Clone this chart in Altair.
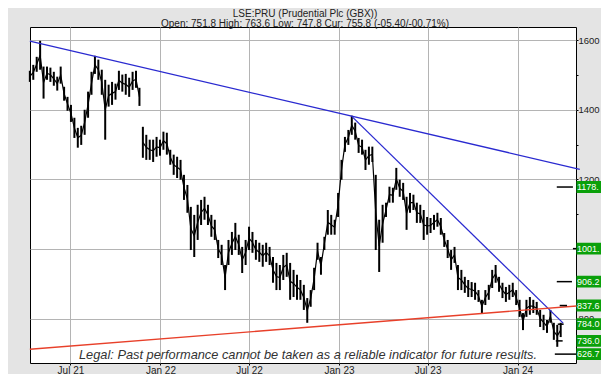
import altair as alt
import pandas as pd

TITLE = "LSE:PRU (Prudential Plc (GBX))"
SUBTITLE = "Open: 751.8 High: 763.6 Low: 747.8 Cur: 755.8 (-05.40/-00.71%)"
LEGAL = "Legal: Past performance cannot be taken as a reliable indicator for future results."

# weekly bars
FIRST_WEEK = "2021-04-09"
GAP_AFTER = "2021-11-20"
HIGHS = [1512, 1529, 1552, 1598, 1524, 1524, 1521, 1509, 1495, 1524,
         1466, 1437, 1414, 1377, 1348, 1354, 1400, 1452, 1509, 1555,
         1544, 1515, 1486, 1472, 1480, 1475, 1512, 1501, 1503, 1492,
         1509, 1512, 1463, 1351, 1328, 1314, 1314, 1322, 1314, 1337,
         1334, 1285, 1271, 1265, 1256, 1213, 1184, 1121, 1098, 1127,
         1141, 1150, 1127, 1098, 1084, 1026, 1012, 954, 1026, 1049,
         1075, 1041, 1006, 1026, 1064, 1049, 1026, 1018, 1012, 1018,
         1006, 977, 960, 954, 983, 989, 960, 940, 926, 911,
         897, 859, 882, 946, 1018, 977, 1035, 1112, 1098, 1084,
         1161, 1256, 1322, 1342, 1383, 1363, 1319, 1314, 1285, 1294,
         1294, 1213, 1084, 1127, 1133, 1179, 1176, 1233, 1199, 1190,
         1150, 1161, 1156, 1133, 1127, 1112, 1092, 1089, 1098, 1104,
         1089, 1046, 1026, 997, 1006, 954, 940, 920, 911, 905,
         903, 882, 854, 882, 897, 940, 954, 920, 903, 891,
         897, 903, 882, 854, 816, 854, 862, 854, 848, 825,
         811, 796, 825, 788, 782, 788]
LOWS = [1480, 1486, 1509, 1515, 1432, 1486, 1480, 1469, 1455, 1475,
        1426, 1397, 1365, 1319, 1291, 1299, 1328, 1377, 1443, 1503,
        1486, 1443, 1314, 1409, 1414, 1429, 1457, 1452, 1443, 1437,
        1457, 1463, 1411, 1262, 1256, 1256, 1250, 1265, 1268, 1285,
        1271, 1242, 1213, 1204, 1199, 1141, 1104, 997, 977, 1026,
        1069, 1084, 1069, 1035, 1026, 974, 954, 882, 954, 983,
        997, 983, 931, 954, 997, 989, 969, 963, 949, 963,
        954, 903, 882, 882, 911, 920, 854, 862, 854, 854,
        825, 788, 834, 882, 969, 926, 997, 1041, 1041, 1041,
        1092, 1199, 1279, 1299, 1328, 1314, 1276, 1271, 1227, 1242,
        1250, 997, 934, 1018, 1092, 1133, 1133, 1170, 1150, 1141,
        1055, 1104, 1112, 1075, 1075, 1026, 1041, 1046, 1055, 1064,
        1041, 1006, 974, 940, 960, 882, 882, 874, 862, 862,
        854, 848, 816, 839, 854, 888, 903, 877, 859, 848,
        854, 862, 839, 805, 767, 805, 811, 816, 811, 776,
        767, 759, 788, 739, 719, 747]

# target levels on the right
LEVEL_VALUES = [1178, 1001, 906.2, 837.6, 784.0, 736.0, 626.7]
LEVEL_TEXT = ["1178.", "1001.", "906.2", "837.6", "784.0", "736.0", "626.7"]
LEVEL_FROM = ["2024-03-21", "2024-04-23", "2024-03-21", "2024-03-27", "2024-03-23", "2024-03-19", "2024-03-17"]
LEVEL_TO = ["2024-04-23", "2024-05-03", "2024-04-21", "2024-04-11", "2024-04-04", "2024-04-02", "2024-05-03"]

# trend lines
TREND_NAMES = ["long", "short", "floor"]
TREND_FROM = ["2021-04-09", "2023-01-27", "2021-04-09"]
TREND_TO = ["2024-05-07", "2024-04-03", "2024-05-07"]
TREND_V1 = [1597, 1381, 712]
TREND_V2 = [1229, 787, 837]

X_DOMAIN = ["2021-04-09T07:00:00", "2024-04-29T07:00:00"]
Y_DOMAIN = [672.5, 1637.7]
X_TICKS = ["2021-07-01", "2022-01-01", "2022-07-01", "2023-01-01", "2023-07-01", "2024-01-01"]
Y_TICKS = list(range(700, 1700, 100))
LOW_CLAMP = 698


def ms(s):
    return int(pd.Timestamp(s, tz="UTC").value // 10**6)


dates = pd.date_range(FIRST_WEEK, periods=len(HIGHS), freq="7D").strftime("%Y-%m-%d")
bars = pd.DataFrame({"date": dates, "high": HIGHS, "low": LOWS})
bars["part"] = (bars["date"] > GAP_AFTER).astype(int)

levels = pd.DataFrame({"level": LEVEL_VALUES, "label": LEVEL_TEXT,
                       "start": LEVEL_FROM, "end": LEVEL_TO})
trends = pd.DataFrame({"name": TREND_NAMES, "start": TREND_FROM, "end": TREND_TO,
                       "v1": TREND_V1, "v2": TREND_V2})
one = pd.DataFrame({"k": [0]})

FONT = "Liberation Sans"
W, H = 546, 336
xs = alt.Scale(type="utc", domain=[ms(d) for d in X_DOMAIN])
ys = alt.Scale(domain=Y_DOMAIN, nice=False, zero=False)

x_axis = alt.Axis(values=[ms(d) for d in X_TICKS], labelExpr="utcFormat(datum.value, '%b %y')",
                  grid=True, gridColor="#b4b4b4", gridWidth=1, domain=False,
                  tickSize=2, tickColor="#000", labelPadding=0, labelFont=FONT,
                  labelFontSize=10, labelColor="#222", title=None)
y_axis = alt.Axis(values=Y_TICKS, orient="right",
                  labelExpr="datum.value % 200 == 0 ? format(datum.value, 'd') : ''",
                  grid=True, gridColor="#b4b4b4", gridWidth=1,
                  gridOpacity={"condition": {"test": "datum.value % 200 != 0", "value": 0}, "value": 1},
                  domain=False, tickSize=2, tickColor="#000", labelPadding=0,
                  labelFont=FONT, labelFontSize=9.5, labelColor="#222", title=None)


def X(field):
    return alt.X(field, scale=xs, axis=x_axis)


def Y(field):
    return alt.Y(field, scale=ys, axis=y_axis)


rules = alt.Chart(bars).mark_rule(color="black", strokeWidth=2).encode(
    x=X("date:T"), y=Y("low:Q"), y2="high:Q",
)
mid = alt.Chart(bars).transform_calculate(mid="(datum.high + datum.low) / 2").mark_line(
    color="black", strokeWidth=1.2).encode(
    x=X("date:T"), y=Y("mid:Q"), detail="part:N",
)
trend = alt.Chart(trends).mark_rule(strokeWidth=1.3).encode(
    x=X("start:T"), x2="end:T", y=Y("v1:Q"), y2="v2:Q",
    color=alt.Color("name:N", scale=alt.Scale(domain=TREND_NAMES,
                                               range=["#2a2ad0", "#2a2ad0", "#e8402a"]), legend=None),
)
lv = alt.Chart(levels).transform_calculate(shown=f"max(datum.level, {LOW_CLAMP})")
lv_rules = lv.mark_rule(color="black", strokeWidth=1.5).encode(
    x=X("start:T"), x2="end:T", y=Y("shown:Q"),
)
lv_boxes = lv.transform_calculate(lo="datum.shown - 17", hi="datum.shown + 17").mark_rect(
    color="#0aa00a", clip=False).encode(
    x=alt.value(W + 0.5), x2=alt.value(W + 80), y=Y("lo:Q"), y2="hi:Q",
)
lv_text = lv.mark_text(color="white", align="left", baseline="middle", font=FONT,
                       fontSize=9, clip=False).encode(
    x=alt.value(W + 1), y=Y("shown:Q"), text="label:N",
)
t1 = alt.Chart(one).mark_text(text=TITLE, font=FONT, fontSize=10, color="#222",
                              baseline="middle", clip=False).encode(
    x=alt.value(275), y=alt.value(-13.5))
t2 = alt.Chart(one).mark_text(text=SUBTITLE, font=FONT, fontSize=10, color="#222",
                              baseline="middle", clip=False).encode(
    x=alt.value(275), y=alt.value(-3.5))
legal = alt.Chart(one).mark_text(text=LEGAL, font=FONT, fontSize=12.8, fontStyle="italic",
                                 color="#333", baseline="middle").encode(
    x=alt.value(278), y=alt.value(328))

chart = alt.layer(rules, mid, trend, lv_rules, legal, lv_boxes, lv_text, t1, t2).properties(
    width=W, height=H,
    autosize=alt.AutoSizeParams(type="none"),
    padding={"left": 22, "top": 19, "right": 593 - 22 - W, "bottom": 366 - 19 - H},
    background="#e4e4e4",
).configure_view(fill="white", stroke="black", strokeWidth=1)

chart.save("out.html", embed_options={"renderer": "svg", "actions": False})
